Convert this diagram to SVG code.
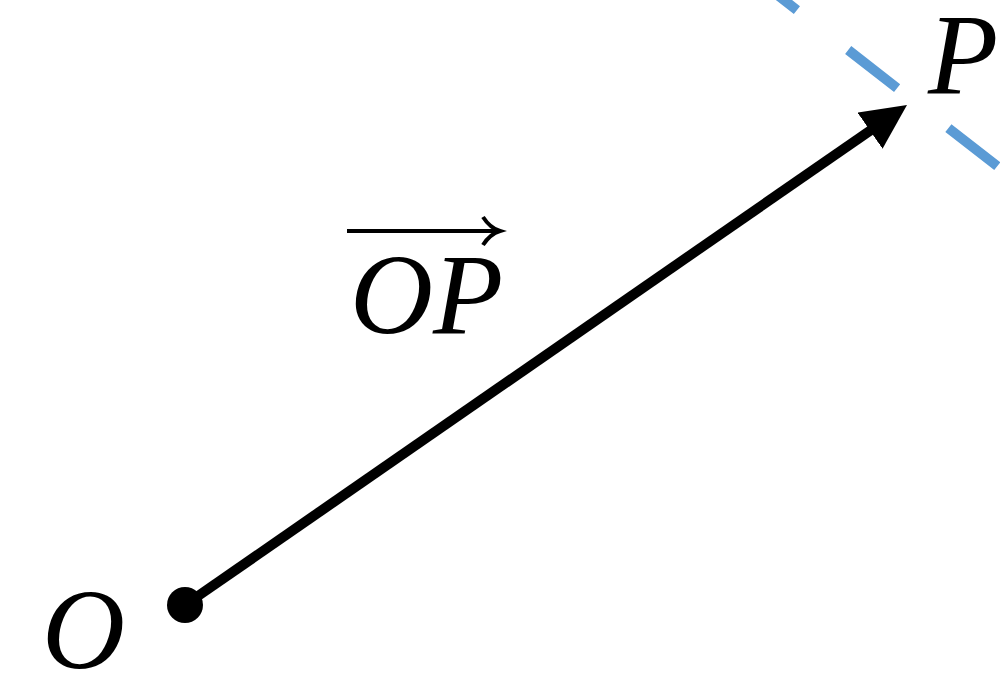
<svg xmlns="http://www.w3.org/2000/svg" width="1000" height="675" viewBox="0 0 1000 675">
<style>
.lbl{font-family:"Liberation Serif","Times New Roman",serif;font-style:italic;font-size:115px;fill:#000}
</style>
<defs>
<marker id="ah" markerUnits="userSpaceOnUse" markerWidth="50" markerHeight="50" refX="5" refY="22" orient="auto">
<path d="M0,0 L45,22 L0,44 Z" fill="#000"/>
</marker>
</defs>
<rect width="1000" height="675" fill="#fff"/>
<g id="guide">
<line x1="748" y1="-28" x2="1060" y2="215" stroke="#5B9BD5" stroke-width="10" stroke-dasharray="62 65"/>
</g>
<g id="connectors">
<line x1="185" y1="605" x2="874.1" y2="127.8" stroke="#000" stroke-width="10" marker-end="url(#ah)"/>
</g>
<g id="O">
<circle cx="185" cy="605" r="18" fill="#000"/>
<text class="lbl" x="42" y="668">O</text>
</g>
<g id="P">
<text class="lbl" x="928" y="93">P</text>
</g>
<g id="OP-label">
<line x1="347" y1="231" x2="497" y2="231" stroke="#000" stroke-width="4"/>
<path d="M483,217 Q490,228 500,231 Q490,234 483,245" fill="none" stroke="#000" stroke-width="4"/>
<text class="lbl" x="350" y="333">OP</text>
</g>
</svg>
